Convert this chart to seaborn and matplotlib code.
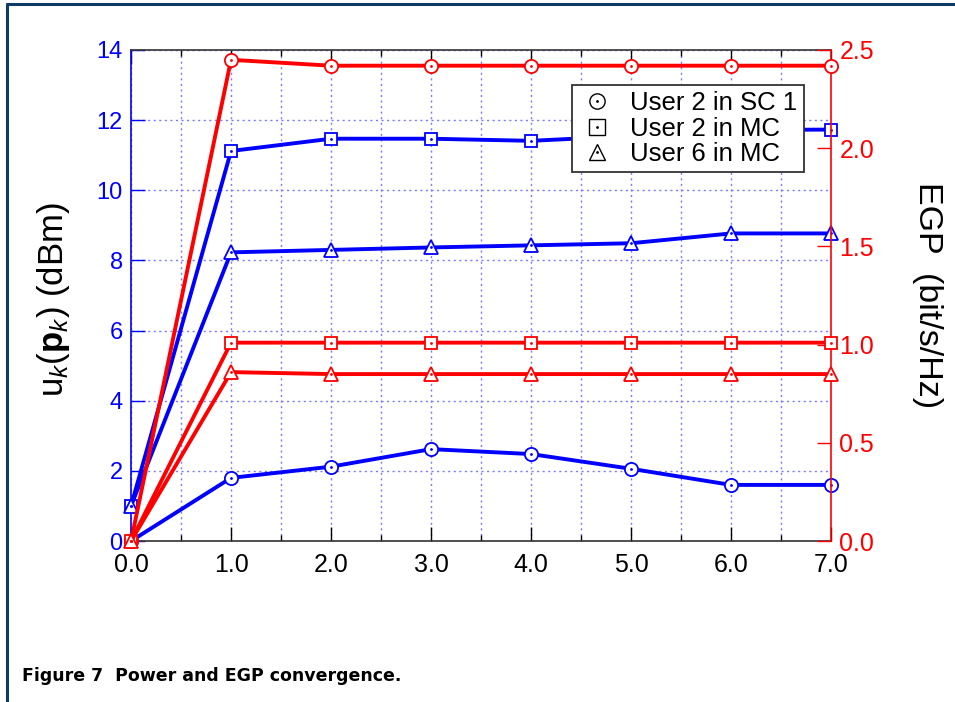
import numpy as np
import pandas as pd
import matplotlib
matplotlib.use("Agg")
import matplotlib.pyplot as plt
from matplotlib.lines import Line2D
from matplotlib.ticker import MultipleLocator, FormatStrFormatter
import seaborn as sns

# iterations
iters = [0, 1, 2, 3, 4, 5, 6, 7]

# power u_k(p_k) in dBm (left axis, blue)
pow_u2_sc1 = [0.0, 1.80, 2.12, 2.62, 2.48, 2.06, 1.60, 1.60]
pow_u2_mc = [1.0, 11.12, 11.47, 11.47, 11.41, 11.55, 11.72, 11.73]
pow_u6_mc = [1.0, 8.23, 8.30, 8.37, 8.43, 8.49, 8.77, 8.77]

# EGP in bit/s/Hz (right axis, red)
egp_u2_sc1 = [0.0, 2.45, 2.42, 2.42, 2.42, 2.42, 2.42, 2.42]
egp_u2_mc = [0.0, 1.01, 1.01, 1.01, 1.01, 1.01, 1.01, 1.01]
egp_u6_mc = [0.0, 0.86, 0.85, 0.85, 0.85, 0.85, 0.85, 0.85]

labels = ["User 2 in SC 1", "User 2 in MC", "User 6 in MC"]
markers = ["o", "s", "^"]

sns.set_style("white")
plt.rcParams["font.family"] = ["Liberation Sans", "DejaVu Sans"]
plt.rcParams["mathtext.fontset"] = "custom"
plt.rcParams["mathtext.rm"] = "Liberation Sans"
plt.rcParams["mathtext.it"] = "Liberation Sans:italic"
plt.rcParams["mathtext.bf"] = "Liberation Sans:bold"
plt.rcParams["text.color"] = "black"

BLUE = "#0000ff"
RED = "#ff0000"
GRID = "#7a7aff"

fig = plt.figure(figsize=(9.55, 7.02), dpi=100)
ax = fig.add_axes([0.1372, 0.2293, 0.733, 0.6995])
ax2 = ax.twinx()
ax2.set_position([0.1372, 0.2293, 0.733, 0.6995])


def draw(axis, ys, color, marker):
    df = pd.DataFrame({"it": iters, "v": ys})
    sns.lineplot(data=df, x="it", y="v", ax=axis, color=color, linewidth=2.8,
                 marker=marker, markersize=9.5 if marker != "s" else 9,
                 markerfacecolor="white", markeredgecolor=color,
                 markeredgewidth=1.3, clip_on=False, zorder=3)
    # small dot in the middle of each marker
    axis.plot(iters, ys, linestyle="none", marker=".", markersize=2,
              color=color, clip_on=False, zorder=4)


for ys, m in zip([pow_u2_sc1, pow_u2_mc, pow_u6_mc], markers):
    draw(ax, ys, BLUE, m)
for ys, m in zip([egp_u2_sc1, egp_u2_mc, egp_u6_mc], markers):
    draw(ax2, ys, RED, m)

ax.set_xlim(0, 7)
ax.set_ylim(0, 14)
ax2.set_ylim(0, 2.5)
ax.set_xlabel("")
ax.set_ylabel("")
ax2.set_xlabel("")
ax2.set_ylabel("")

ax.xaxis.set_major_locator(MultipleLocator(1))
ax.xaxis.set_minor_locator(MultipleLocator(0.5))
ax.xaxis.set_major_formatter(FormatStrFormatter("%.1f"))
ax.yaxis.set_major_locator(MultipleLocator(2))
ax.yaxis.set_major_formatter(FormatStrFormatter("%d"))
ax2.yaxis.set_major_locator(MultipleLocator(0.5))
ax2.yaxis.set_major_formatter(FormatStrFormatter("%.1f"))

ax.grid(True, which="both", axis="x", color=GRID, linestyle=(0, (1.5, 2.5)), linewidth=1)
ax.grid(True, which="major", axis="y", color=GRID, linestyle=(0, (1.5, 2.5)), linewidth=1)
ax.set_axisbelow(True)

ax.tick_params(axis="x", which="major", direction="in", length=10, width=1,
               top=True, bottom=True, colors="black", labelsize=18, pad=8.5)
ax.tick_params(axis="x", which="minor", direction="in", length=4.5, width=1,
               top=True, bottom=True, color="black")
ax.tick_params(axis="y", which="major", direction="in", length=10, width=1,
               colors=BLUE, labelsize=17, pad=6)
ax2.tick_params(axis="y", which="major", direction="in", length=10, width=1,
                colors=RED, labelsize=18, pad=6)

for a in (ax, ax2):
    for s in a.spines.values():
        s.set_linewidth(1.2)
ax.spines["bottom"].set_color("#333333")
ax.spines["top"].set_color("#333333")
ax.spines["left"].set_color(BLUE)
ax2.spines["right"].set_color(RED)
ax2.spines["left"].set_visible(False)
ax2.spines["top"].set_visible(False)
ax2.spines["bottom"].set_visible(False)
ax.spines["right"].set_visible(False)

# legend with black hollow markers
handles = []
for m in markers:
    h1 = Line2D([], [], linestyle="none", marker=m, markersize=11,
                markerfacecolor="white", markeredgecolor="black", markeredgewidth=1.0)
    h2 = Line2D([], [], linestyle="none", marker=".", markersize=2, color="black")
    handles.append((h1, h2))
leg = ax2.legend(handles, labels, loc="upper right", bbox_to_anchor=(0.961, 0.929),
                 fontsize=18.5, frameon=True, fancybox=False, framealpha=1,
                 edgecolor="#333333", handlelength=1.4, handletextpad=0.6,
                 labelspacing=0.05, borderpad=0.25, borderaxespad=0)
leg.get_frame().set_linewidth(1.3)
leg.set_zorder(10)

fig.text(0.0565, 0.5726, r"u$_{\mathit{k}}$($\mathbf{p}_{\mathit{k}}$) (dBm)",
         rotation=90, ha="center", va="center", fontsize=25, color="black")
fig.text(0.9707, 0.5798, "EGP  (bit/s/Hz)", rotation=270, ha="center", va="center",
         fontsize=24.5, color="black")

fig.text(22 / 955, 1 - 676 / 702, "Figure 7  Power and EGP convergence.",
         ha="left", va="center", fontsize=12.5, fontweight="bold",
         family=["DejaVu Sans"], color="black")

# page frame lines (left and top)
frame_c = "#0d3b66"
fig.add_artist(Line2D([7 / 955, 7 / 955], [0, 1 - 4 / 702], color=frame_c, linewidth=2.2,
                      transform=fig.transFigure))
fig.add_artist(Line2D([7 / 955, 1], [1 - 4 / 702, 1 - 4 / 702], color=frame_c, linewidth=2.2,
                      transform=fig.transFigure))

fig.savefig("out.png", dpi=100)
